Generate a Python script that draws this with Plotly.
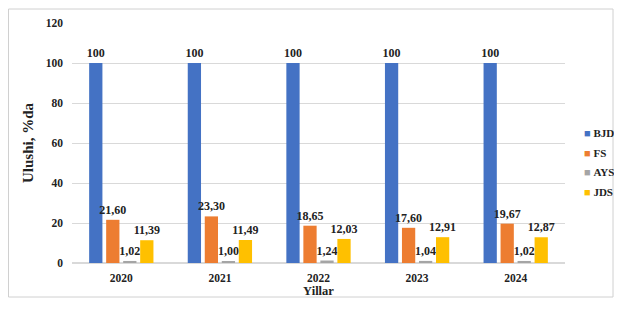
import plotly.graph_objects as go

years = ["2020", "2021", "2022", "2023", "2024"]
series_names = ["BJD", "FS", "AYS", "JDS"]
bjd = [100, 100, 100, 100, 100]
fs = [21.60, 23.30, 18.65, 17.60, 19.67]
ays = [1.02, 1.00, 1.24, 1.04, 1.02]
jds = [11.39, 11.49, 12.03, 12.91, 12.87]
colors = ["#4472C4", "#ED7D31", "#A5A5A5", "#FFC000"]
y_ticks = [0, 20, 40, 60, 80, 100, 120]

font_family = "Liberation Serif, Times New Roman, serif"

def fmt(v, name):
    if name == "BJD":
        return f"{v:.0f}"
    return f"{v:.2f}".replace(".", ",")

fig = go.Figure()
for name, vals, c in zip(series_names, [bjd, fs, ays, jds], colors):
    fig.add_trace(go.Bar(
        x=years, y=vals, name=name, marker_color=c, marker_line_width=0,
        text=[fmt(v, name) for v in vals], textposition="outside",
        constraintext="none",
        textfont=dict(family=font_family, size=12, color="#222", weight="bold"),
        cliponaxis=False, showlegend=False,
    ))

# page body has an 8px margin; figure coordinates are page coordinates minus 8
OFF = 8
W, H = 622 - 2 * OFF, 290
L, T = 72 - OFF, 23 - OFF
R = W - (565 - OFF)
B = H - (263 - OFF)
pw, ph = W - L - R, H - T - B

def px(xp):
    return (xp - OFF - L) / pw

def py(yp):
    return (T + ph - (yp - OFF)) / ph

annotations = []
legend_y = [133, 153, 172, 192]
for name, c, yy in zip(series_names, colors, legend_y):
    annotations.append(dict(
        xref="paper", yref="paper", x=px(582), y=py(yy),
        xanchor="left", yanchor="middle", showarrow=False,
        text=f'<span style="color:{c}">■</span> <b>{name}</b>',
        font=dict(family=font_family, size=11, color="#222"),
    ))

fig.update_layout(
    width=W, height=H,
    margin=dict(l=L, r=R, t=T, b=B, autoexpand=False),
    paper_bgcolor="white", plot_bgcolor="white",
    barmode="group", bargap=0.31, bargroupgap=0.22,
    font=dict(family=font_family, size=11, color="#222"),
    showlegend=False,
    xaxis=dict(
        title=dict(text="<b>Yillar</b>", font=dict(size=12.5), standoff=6),
        tickfont=dict(size=11.5, weight="bold"), showline=False, ticks="",
        ticklabelstandoff=6, automargin=False,
    ),
    yaxis=dict(
        title=dict(text="<b>Ulushi, %da</b>", font=dict(size=15), standoff=8),
        range=[0, 120], tickvals=y_ticks, tickfont=dict(size=11.5, weight="bold"),
        showgrid=True, gridcolor="#d9d9d9", zeroline=True, zerolinecolor="#d9d9d9",
        ticks="", showline=False, ticklabelstandoff=8, automargin=False,
    ),
    annotations=annotations,
    shapes=[dict(type="rect", xref="paper", yref="paper",
                 x0=px(8.5), x1=px(613), y0=py(297), y1=py(9),
                 line=dict(color="#d0d0d0", width=1), fillcolor="rgba(0,0,0,0)",
                 layer="below")],
    separators=", ",
)

fig.write_html("out.html")
